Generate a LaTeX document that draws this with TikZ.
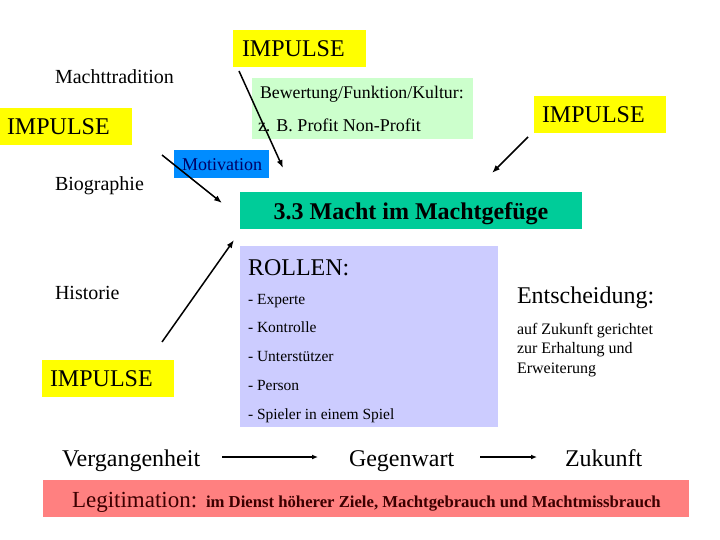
\documentclass[tikz,border=0pt]{standalone}
\usepackage{fontspec}
\setmainfont{Liberation Serif}
\usetikzlibrary{arrows.meta}
\definecolor{impyellow}{RGB}{255,255,0}
\definecolor{bwgreen}{RGB}{204,255,204}
\definecolor{motblue}{RGB}{0,140,255}
\definecolor{motnavy}{RGB}{0,0,100}
\definecolor{tealhead}{RGB}{0,204,153}
\definecolor{lavbox}{RGB}{204,204,255}
\definecolor{pinkbar}{RGB}{255,128,128}
\definecolor{legred}{RGB}{60,0,0}
\begin{document}
\begin{tikzpicture}[x=1pt,y=-1pt,
  box/.style={draw=none, anchor=north west, inner sep=0pt, outer sep=0pt},
  txt/.style={anchor=base west, inner sep=0pt, outer sep=0pt},
  conn/.style={line width=1.5pt, -{Latex[length=8pt,width=6pt]}},
  fA/.style={font=\fontsize{24}{28}\selectfont},
  fB/.style={font=\fontsize{20}{24}\selectfont},
  fC/.style={font=\fontsize{18}{22}\selectfont},
  fD/.style={font=\fontsize{15.5}{19}\selectfont},
  fE/.style={font=\fontsize{16}{20}\selectfont},
]
\useasboundingbox[fill=white] (0,0) rectangle (720,540);

% boxes
\node[box, fill=impyellow, minimum width=133pt, minimum height=37pt] (impTopBox) at (233,30) {};
\node[box, fill=impyellow, minimum width=132pt, minimum height=37pt] (impLeftBox) at (0,108) {};
\node[box, fill=impyellow, minimum width=132pt, minimum height=37pt] (impRightBox) at (534,96) {};
\node[box, fill=impyellow, minimum width=132pt, minimum height=37pt] (impLowBox) at (42,360) {};
\node[box, fill=bwgreen, minimum width=221pt, minimum height=61pt] (bwBox) at (252,78) {};
\node[box, fill=motblue, minimum width=95pt, minimum height=28pt] (motBox) at (174,150) {};
\node[box, fill=tealhead, minimum width=342pt, minimum height=37pt] (headBox) at (240,192) {};
\node[box, fill=lavbox, minimum width=258pt, minimum height=181pt] (rolBox) at (240,246) {};
\node[box, fill=pinkbar, minimum width=646pt, minimum height=37pt] (legBox) at (43,480) {};

% texts
\node[txt,fA] (impTop) at (242,56.7) {IMPULSE};
\node[txt,fA] (impLeft) at (7,134.5) {IMPULSE};
\node[txt,fA] (impRight) at (542,122.5) {IMPULSE};
\node[txt,fA] (impLow) at (50,386.5) {IMPULSE};

\node[txt,fB] (machttrad) at (55,83.8) {Machttradition};
\node[txt,fB] (bio) at (55,190.8) {Biographie};
\node[txt,fB] (hist) at (55,299.8) {Historie};

\node[txt,font=\fontsize{17.8}{21}\selectfont] (bw1) at (260,99) {Bewertung/Funktion/Kultur:};
\node[txt,font=\fontsize{18}{22}\selectfont] (bw2) at (258,132) {z. B. Profit Non-Profit};

\node[txt,fC,text=motnavy] (mot) at (182,171) {Motivation};

\node[anchor=base, inner sep=0pt, font=\fontsize{24}{28}\selectfont\bfseries] (head) at (411,219) {3.3 Macht im Machtgef\"uge};

\node[txt,fA] (rollen) at (248,275) {ROLLEN:};
\node[txt,fD] (r1) at (248,304.2) {- Experte};
\node[txt,fD] (r2) at (248,332.2) {- Kontrolle};
\node[txt,fD] (r3) at (248,361.2) {- Unterst\"utzer};
\node[txt,fD] (r4) at (248,390.2) {- Person};
\node[txt,fD] (r5) at (248,419.2) {- Spieler in einem Spiel};

\node[txt,fA] (ent) at (517,303) {Entscheidung:};
\node[txt,fE] (e1) at (517,334.4) {auf Zukunft gerichtet};
\node[txt,fE] (e2) at (517,353.4) {zur Erhaltung und};
\node[txt,fE] (e3) at (517,373.4) {Erweiterung};

\node[txt,fA] (verg) at (62,466) {Vergangenheit};
\node[txt,fA] (gegen) at (349,466) {Gegenwart};
\node[txt,fA] (zuk) at (565,466) {Zukunft};

\node[txt,text=legred,font=\fontsize{23}{26}\selectfont] (leg) at (72,507) {Legitimation:};
\node[txt,text=legred,font=\fontsize{16.7}{20}\selectfont\bfseries] (legrest) at (206,507) {im Dienst h\"oherer Ziele, Machtgebrauch und Machtmissbrauch};

% connector ends
\coordinate (a1s) at (239,71);  \coordinate (a1e) at (283,168);
\coordinate (a2s) at (162,155); \coordinate (a2e) at (222,203);
\coordinate (a3s) at (528,137); \coordinate (a3e) at (492,173);
\coordinate (a4s) at (162,342); \coordinate (a4e) at (234,240);
\coordinate (b1s) at (222,457); \coordinate (b1e) at (318,457);
\coordinate (b2s) at (480,457); \coordinate (b2e) at (537,457);

\draw[conn] (a1s) -- (a1e);
\draw[conn] (a2s) -- (a2e);
\draw[conn] (a3s) -- (a3e);
\draw[conn] (a4s) -- (a4e);
\draw[conn, line width=1.3pt, -{Latex[length=6pt,width=5pt]}] (b1s) -- (b1e);
\draw[conn, line width=1.3pt, -{Latex[length=6pt,width=5pt]}] (b2s) -- (b2e);
\end{tikzpicture}
\end{document}
